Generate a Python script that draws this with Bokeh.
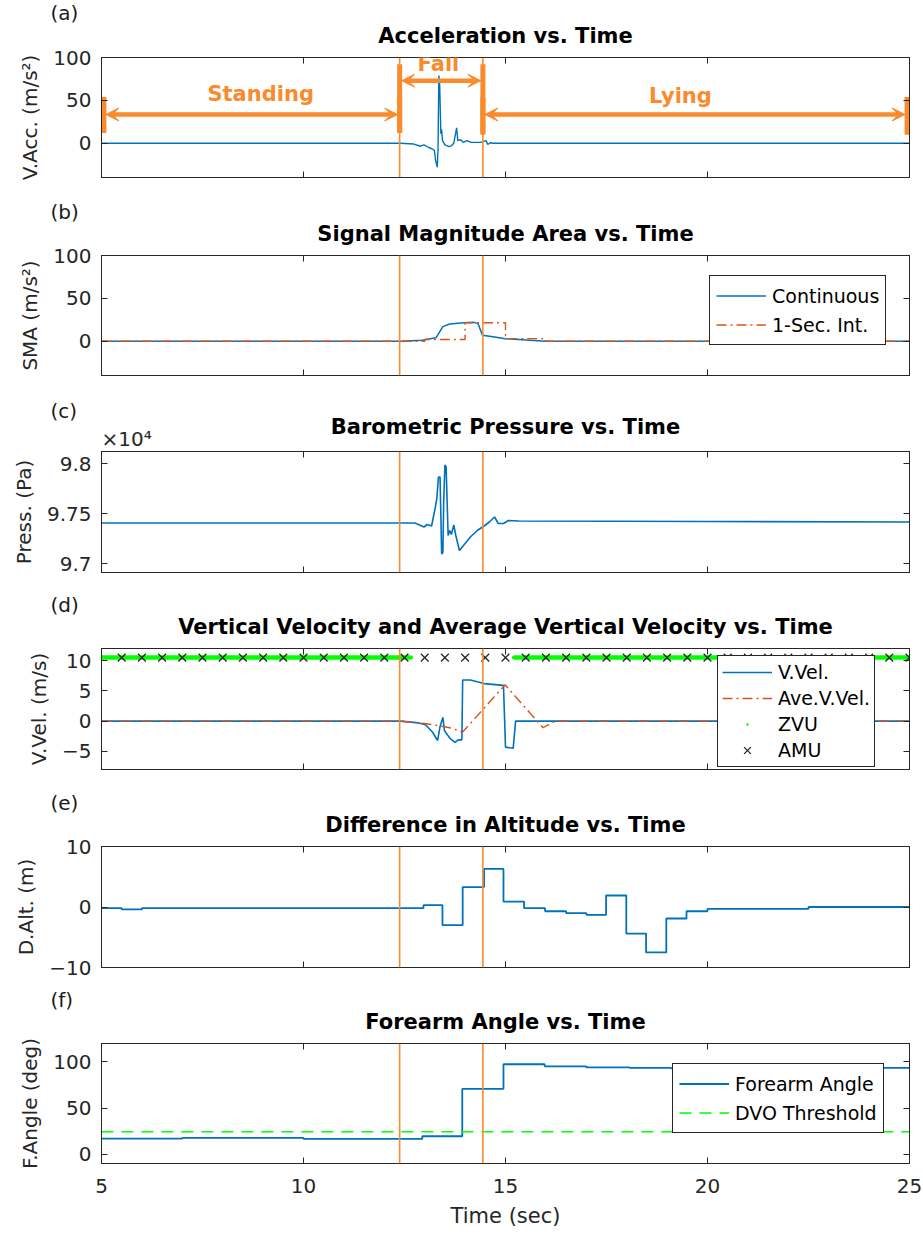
from bokeh.plotting import figure
from bokeh.layouts import column
from bokeh.models import (Range1d, FixedTicker, LinearAxis, Span, Label, Arrow, VeeHead,
                          Legend, LegendItem, CustomJSTickFormatter, Title)
from bokeh.embed import file_html
from bokeh.resources import INLINE

# ---------------- data ----------------
x_min, x_max = 5.0, 25.0
x_ticks = [5, 10, 15, 20, 25]

fall_start = 12.38
fall_end = 14.44

phase_names = ["Standing", "Fall", "Lying"]
phase_start = [x_min, fall_start, fall_end]
phase_end = [fall_start, fall_end, x_max]

# (a) vertical acceleration
acc_t = [5.0, 12.40, 12.73, 12.90, 12.98, 13.10, 13.18, 13.24, 13.27, 13.31, 13.33, 13.35,
         13.37, 13.40, 13.42, 13.44, 13.50, 13.60, 13.66, 13.72, 13.79, 13.82, 13.89, 13.95,
         14.05, 14.15, 14.38, 14.52, 14.56, 14.62, 14.70, 25.0]
acc_v = [0, 0, -1, -3.5, -2, -5, -6.5, -8.5, -20, -28, -8, 79,
         69, 11, 16, 3, -2, -4, -3, 0, 18, 3, 4, 1,
         3, 1, 1, 3, -1.5, 0.5, 0, 0]

# (b) signal magnitude area
sma_t = [5.0, 12.42, 12.93, 13.28, 13.45, 13.62, 13.96, 14.22, 14.32, 14.43, 14.73, 14.99, 15.5, 16.0, 25.0]
sma_v = [0, 0, 1, 4, 17, 20, 21.5, 22, 20.5, 7, 5, 3, 1.5, 0, 0]
sma_int_t = [5.0, 13.0, 14.0, 15.0, 16.0, 25.0]
sma_int_v = [0, 2, 21.5, 3, 0, 0]

# (c) barometric pressure (Pa)
press_t = [5.0, 12.40, 12.76, 12.93, 12.98, 13.06, 13.17, 13.21, 13.26, 13.30, 13.34, 13.38,
           13.42, 13.45, 13.47, 13.50, 13.53, 13.58, 13.62, 13.66, 13.72, 13.77, 13.86, 13.96,
           14.13, 14.30, 14.47, 14.60, 14.73, 14.82, 14.95, 15.07, 15.33, 20.0, 25.0]
press_v = [97405, 97405, 97405, 97375, 97365, 97390, 97375, 97455, 97555, 97650, 97865, 97865,
           97095, 97110, 97615, 97985, 97965, 97280, 97330, 97290, 97385, 97280, 97130, 97180,
           97265, 97330, 97375, 97415, 97465, 97400, 97400, 97430, 97425, 97420, 97415]

# (d) vertical velocity
vel_t = [5.0, 12.40, 12.85, 13.02, 13.19, 13.32, 13.38, 13.45, 13.49, 13.62, 13.75, 13.83,
         13.92, 13.94, 14.13, 14.47, 14.95, 15.00, 15.19, 15.25, 25.0]
vel_v = [0, 0, -0.3, -0.6, -1.8, -3.2, -0.9, 0.6, -1.6, -2.8, -3.5, -3.1,
         -3.1, 6.8, 6.8, 6.2, 5.9, -4.3, -4.5, 0, 0]
ave_t = [5.0, 12.40, 12.85, 13.00, 13.20, 13.45, 13.62, 13.94, 14.99, 15.93, 16.23, 25.0]
ave_v = [0, 0, -0.3, -0.4, -0.6, -0.9, -1.1, -1.8, 6.0, -1.1, 0, 0]
zvu_start = [5.0, 15.2]
zvu_end = [12.67, 25.0]
amu_t = [5.5, 6.0, 6.5, 7.0, 7.5, 8.0, 8.5, 9.0, 9.5, 10.0, 10.5, 11.0, 11.5, 12.0, 12.5,
         13.0, 13.5, 14.0, 14.5, 15.0, 15.5, 16.0, 16.5, 17.0, 17.5, 18.0, 18.5, 19.0, 19.5,
         20.0, 20.5, 21.0, 21.5, 22.0, 22.5, 23.0, 23.5, 24.0, 24.5, 25.0]
marker_level = 10.5

# (e) difference in altitude (m)
dalt_t = [5.0, 5.5, 6.0, 12.97, 13.44, 13.94, 14.47, 14.95, 15.46, 15.98, 16.5, 17.0, 17.49,
          17.99, 18.48, 18.98, 19.48, 20.0, 22.5, 25.0]
dalt_v = [-0.2, -0.4, -0.2, 0.3, -3.0, 3.3, 6.3, 0.9, -0.2, -0.7, -1.0, -1.3, 1.9,
          -4.4, -7.5, -1.9, -0.7, -0.3, 0.0, 0.0]

# (f) forearm angle (deg)
angle_t = [5.0, 7.0, 10.0, 12.94, 13.93, 14.95, 15.97, 17.0, 18.07, 19.1, 23.0, 25.0]
angle_v = [16.9, 17.8, 16.6, 19.5, 70.9, 97.5, 95.3, 94.2, 93.5, 93.0, 93.5, 93.5]
dvo_threshold = 24.5

# ---------------- style ----------------
FONT = "DejaVu Sans"
AXC = "#262626"
BLUE = "#0072BD"
RED = "#D95319"
ORANGE = "#FA8A2C"
GREEN = "#00FF00"
TXT_H = 26.4  # approx. title box height (2 + text height)


def hide_labels(ax):
    ax.formatter = CustomJSTickFormatter(code="return '';")
    ax.major_label_text_font_size = "0px"
    ax.major_label_standoff = 0


def style_axis(ax, ticks):
    ax.ticker = FixedTicker(ticks=ticks)
    ax.axis_line_color = AXC
    ax.axis_line_width = 1
    ax.major_tick_line_color = AXC
    ax.major_tick_line_width = 1
    ax.major_tick_in = 6
    ax.major_tick_out = 0
    ax.minor_tick_line_color = None
    ax.major_label_text_font = FONT
    ax.major_label_text_font_size = "20px"
    ax.major_label_text_color = AXC
    ax.major_label_standoff = 10
    ax.axis_label_text_font = FONT
    ax.axis_label_text_font_size = "20px"
    ax.axis_label_text_font_style = "normal"
    ax.axis_label_text_color = AXC
    ax.axis_label_standoff = 8


def title_box(text, center_at, start, align="center", offset=0, bold=False, size="20px", color="#1a1a1a"):
    """Middle-aligned Title whose text centre sits about `center_at` px above the frame,
    given that its panel begins `start` px above the frame (heights cannot go below 0)."""
    height = max(2 * (center_at - start), 0)
    t = Title(text=text, align=align, vertical_align="middle", offset=offset,
              standoff=height - TXT_H, text_font=FONT, text_font_size=size,
              text_font_style="bold" if bold else "normal", text_color=color)
    return t, start + height


def make_panel(tag, title, ylabel, yr, yticks, top, fh, bottom, last=False, yfmt=None,
               tag_at=43, exponent=None):
    p = figure(width=923, height=top + fh + bottom,
               x_range=Range1d(x_min, x_max), y_range=Range1d(*yr),
               output_backend="svg", toolbar_location=None,
               min_border_left=101, min_border_right=14,
               min_border_top=top, min_border_bottom=bottom,
               background_fill_color="white", border_fill_color="white")
    p.xgrid.visible = False
    p.ygrid.visible = False
    p.outline_line_color = AXC
    p.outline_line_alpha = 1
    p.outline_line_width = 1
    style_axis(p.xaxis[0], x_ticks)
    style_axis(p.yaxis[0], yticks)
    p.yaxis[0].axis_label = ylabel
    if yfmt is not None:
        p.yaxis[0].formatter = yfmt
    if last:
        p.xaxis[0].axis_label = "Time (sec)"
        p.xaxis[0].major_label_standoff = 15
        p.xaxis[0].axis_label_text_font_size = "21px"
        p.xaxis[0].axis_label_standoff = 8
    else:
        hide_labels(p.xaxis[0])
    ax_r = LinearAxis()
    style_axis(ax_r, yticks)
    hide_labels(ax_r)
    p.add_layout(ax_r, "right")
    ax_t = LinearAxis()
    style_axis(ax_t, x_ticks)
    hide_labels(ax_t)
    p.add_layout(ax_t, "above")

    nxt = 0
    if exponent is not None:
        t_exp, nxt = title_box(exponent, 12.5, nxt, align="left", offset=0, color=AXC)
        p.add_layout(t_exp, "above")
    t_main, nxt = title_box(title, 22, nxt, bold=True, size="21px", color="black")
    p.add_layout(t_main, "above")
    t_tag, nxt = title_box(tag, tag_at, nxt, align="left", offset=-51)
    p.add_layout(t_tag, "above")
    return p


def add_events(p):
    for loc in (fall_start, fall_end):
        p.add_layout(Span(location=loc, dimension="height", line_color=ORANGE, line_width=1.6))


def add_legend(p, items, x, y, lh=27, pad=6):
    leg = Legend(items=items, location=(x, y), orientation="vertical",
                 glyph_width=50, glyph_height=lh, label_height=lh, label_standoff=6,
                 padding=pad, spacing=2, margin=0,
                 border_line_color=AXC, border_line_width=1, border_line_alpha=1,
                 background_fill_color="white", background_fill_alpha=1,
                 label_text_font=FONT, label_text_font_size="19px", label_text_color="black")
    p.add_layout(leg)


# ---------------- (a) ----------------
pa = make_panel("(a)", "Acceleration vs. Time", "V.Acc. (m/s²)", (-40, 100), [0, 50, 100], 57, 120, 21,
                tag_at=45)
pa.line(acc_t, acc_v, line_color=BLUE, line_width=1.4)
add_events(pa)

arrow_y = [33.5, 73, 33.5]
bar_lo = [12, 12, 10]
bar_hi = [54, 92, 54]
name_x = [8.94, 13.34, 19.33]
name_y = [58, 92, 55.5]
for i, name in enumerate(phase_names):
    s, e = phase_start[i], phase_end[i]
    bs = s + 0.06 if s == x_min else s
    be = e - 0.06 if e == x_max else e
    pa.segment(x0=[bs, be], y0=[bar_lo[i]] * 2, x1=[bs, be], y1=[bar_hi[i]] * 2,
               line_color=ORANGE, line_width=5)
    pa.add_layout(Arrow(x_start=bs + 0.05, y_start=arrow_y[i], x_end=be - 0.05, y_end=arrow_y[i],
                        line_color=ORANGE, line_width=4.5,
                        start=VeeHead(size=13, fill_color=ORANGE, line_color=ORANGE, line_width=1),
                        end=VeeHead(size=13, fill_color=ORANGE, line_color=ORANGE, line_width=1)))
    pa.add_layout(Label(x=name_x[i], y=name_y[i], text=name, text_align="center",
                        text_baseline="middle", text_font=FONT, text_font_style="bold",
                        text_font_size="21px", text_color=ORANGE))

# ---------------- (b) ----------------
pb = make_panel("(b)", "Signal Magnitude Area vs. Time", "SMA (m/s²)", (-40, 100), [0, 50, 100], 57, 120, 19)
rb1 = pb.line(sma_t, sma_v, line_color=BLUE, line_width=1.5)
rb2 = pb.step(sma_int_t, sma_int_v, mode="after", line_color=RED, line_width=1.4, line_dash="10 4 2 4")
add_events(pb)
add_legend(pb, [LegendItem(label="Continuous", renderers=[rb1]),
                LegendItem(label="1-Sec. Int.", renderers=[rb2])], 608, 30)

# ---------------- (c) ----------------
pc = make_panel("(c)", "Barometric Pressure vs. Time", "Press. (Pa)", (96910, 98120), [97000, 97500, 98000],
                57, 121, 20, yfmt=CustomJSTickFormatter(code="return (tick / 10000).toString();"),
                exponent="×10⁴", tag_at=41)
pc.line(press_t, press_v, line_color=BLUE, line_width=1.6)
add_events(pc)

# ---------------- (d) ----------------
pd_ = make_panel("(d)", "Vertical Velocity and Average Vertical Velocity vs. Time", "V.Vel. (m/s)",
                 (-8, 12), [-5, 0, 5, 10], 56, 121, 20, tag_at=42)
rd1 = pd_.line(vel_t, vel_v, line_color=BLUE, line_width=1.6)
rd2 = pd_.line(ave_t, ave_v, line_color=RED, line_width=1.4, line_dash="10 4 2 4")
pd_.segment(x0=zvu_start, y0=[marker_level] * len(zvu_start), x1=zvu_end,
            y1=[marker_level] * len(zvu_end), line_color=GREEN, line_width=4.5)
rd3 = pd_.scatter(zvu_start + zvu_end, [marker_level] * (len(zvu_start) + len(zvu_end)),
                  marker="dot", size=14, fill_color=GREEN, line_color=GREEN)
rd4 = pd_.scatter(amu_t, [marker_level] * len(amu_t), marker="x", size=11,
                  line_color=AXC, line_width=1.3)
add_events(pd_)
add_legend(pd_, [LegendItem(label="V.Vel.", renderers=[rd1]),
                 LegendItem(label="Ave.V.Vel.", renderers=[rd2]),
                 LegendItem(label="ZVU", renderers=[rd3]),
                 LegendItem(label="AMU", renderers=[rd4])], 616, 2, lh=24, pad=4)

# ---------------- (e) ----------------
pe = make_panel("(e)", "Difference in Altitude vs. Time", "D.Alt. (m)", (-10, 10), [-10, 0, 10],
                57, 121, 20, tag_at=40)
pe.step(dalt_t, dalt_v, mode="after", line_color=BLUE, line_width=1.8)
add_events(pe)

# ---------------- (f) ----------------
pf = make_panel("(f)", "Forearm Angle vs. Time", "F.Angle (deg)", (-10, 120), [0, 50, 100],
                56, 120, 77, last=True, tag_at=40)
rf1 = pf.step(angle_t, angle_v, mode="after", line_color=BLUE, line_width=1.8)
rf2 = pf.line([x_min, x_max], [dvo_threshold, dvo_threshold], line_color=GREEN, line_width=1.5,
              line_dash="12 8")
add_events(pf)
add_legend(pf, [LegendItem(label="Forearm Angle", renderers=[rf1]),
                LegendItem(label="DVO Threshold", renderers=[rf2])], 571, 30)

layout = column(pa, pb, pc, pd_, pe, pf, spacing=0)
open("out.html", "w").write(file_html(layout, INLINE))
